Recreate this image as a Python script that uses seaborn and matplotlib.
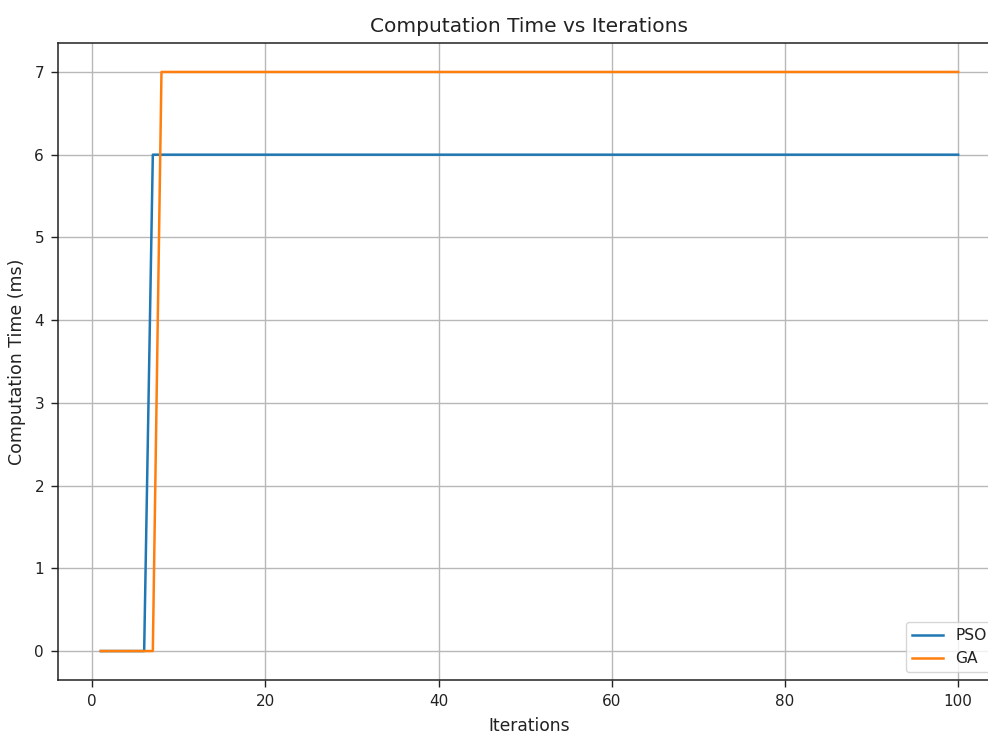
import matplotlib
matplotlib.use("Agg")
import matplotlib.pyplot as plt
import seaborn as sns
import pandas as pd

iterations = list(range(1, 101))
pso_values = [0] * 6 + [6] * 94
ga_values = [0] * 7 + [7] * 93

df = pd.DataFrame({
    "Iterations": iterations * 2,
    "Time": pso_values + ga_values,
    "Algorithm": ["PSO"] * 100 + ["GA"] * 100,
})

plt.rcParams["font.family"] = ["DejaVu Sans"]
plt.rcParams["text.color"] = "#222222"
plt.rcParams["axes.labelcolor"] = "#222222"
plt.rcParams["xtick.color"] = "#222222"
plt.rcParams["ytick.color"] = "#222222"
fig = plt.figure(figsize=(9.88, 7.35), dpi=100)
ax = fig.add_axes([58 / 988, 1 - 680 / 735, (1001 - 58) / 988, (680 - 43) / 735])

sns.lineplot(data=df, x="Iterations", y="Time", hue="Algorithm",
             palette=["#1f77b4", "#ff7f0e"], linewidth=1.8, ax=ax)

ax.set_title("Computation Time vs Iterations", fontsize=14.5, pad=8)
ax.set_xlabel("Iterations", fontsize=12.3, labelpad=6)
ax.set_ylabel("Computation Time (ms)", fontsize=12.5, labelpad=6)
ax.tick_params(labelsize=11, length=5, width=1, pad=5)
for s in ax.spines.values():
    s.set_linewidth(1.1)
    s.set_color("#222222")
ax.grid(True, color="#b8b8b8", linewidth=1.0)
ax.legend(loc="lower right", fontsize=11.2)

fig.savefig("out.png", dpi=100, facecolor="white")
